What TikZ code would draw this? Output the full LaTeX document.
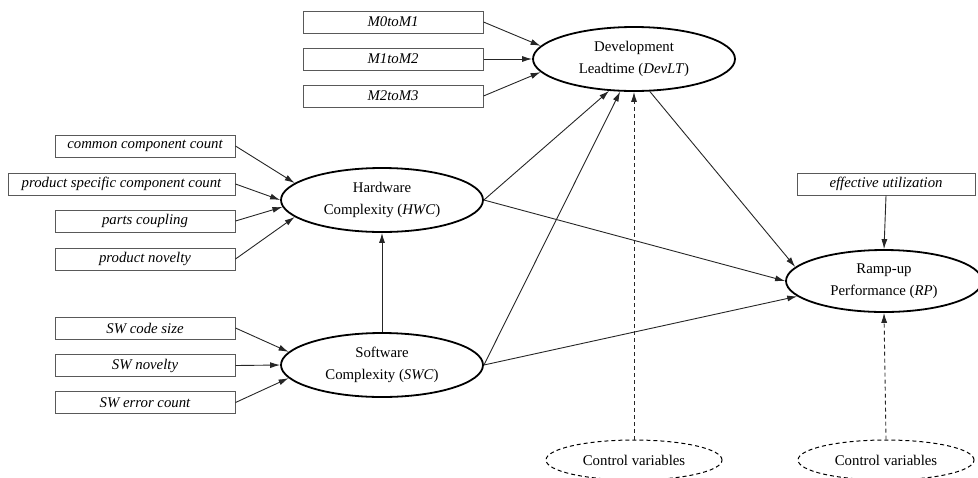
\documentclass[tikz,border=0pt]{standalone}
\usepackage{fontspec}
\setmainfont{Liberation Serif}
\usetikzlibrary{arrows.meta,shapes.geometric}

\begin{document}
\begin{tikzpicture}[x=0.5pt,y=-0.5pt,
  font=\fontsize{7.4}{11}\selectfont,
  ind/.style={draw=black!65,line width=0.5pt,minimum width=90pt,minimum height=11pt,inner sep=0pt,font=\fontsize{7.4}{11}\selectfont\itshape},
  lat/.style={ellipse,draw,line width=0.9pt,minimum width=101pt,minimum height=32pt,inner sep=0pt,align=center},
  ctrl/.style={ellipse,draw,dash pattern=on 2pt off 1.5pt,line width=0.5pt,minimum width=88pt,minimum height=20pt,inner sep=0pt},
  arr/.style={-{Latex[length=5pt,width=3pt]},line width=0.45pt,draw=black!85},
  darr/.style={arr,dash pattern=on 2pt off 1.5pt}]
\useasboundingbox (0,0) rectangle (978,477);
% indicators
\node[ind] (m0) at (393,22) {M0toM1};
\node[ind] (m1) at (393,59) {M1toM2};
\node[ind] (m2) at (393,96) {M2toM3};
\node[ind] (cc) at (145,146) {common component count};
\node[ind,minimum width=113.5pt] (ps) at (121.5,184) {product specific component count};
\node[ind] (pc) at (145,221) {parts coupling};
\node[ind] (pn) at (145,259) {product novelty};
\node[ind] (sc) at (145,328) {SW code size};
\node[ind] (sn) at (145,365.5) {SW novelty};
\node[ind] (se) at (145,402.5) {SW error count};
\node[ind,minimum width=89pt] (eu) at (886,184) {effective utilization};
% constructs
\node[lat] (devlt) at (634,59) {Development\\Leadtime (\textit{DevLT})};
\node[lat] (hwc) at (382,200) {Hardware\\Complexity (\textit{HWC})};
\node[lat] (swc) at (382,365) {Software\\Complexity (\textit{SWC})};
\node[lat,minimum width=98pt,minimum height=31pt] (rp) at (884,281) {Ramp-up\\Performance (\textit{RP})};
\node[ctrl] (cv1) at (634,460) {Control variables};
\node[ctrl] (cv2) at (886,460) {Control variables};
% paths
\draw[arr] (m0.east) -- (devlt.172);
\draw[arr] (m1.east) -- (devlt.west);
\draw[arr] (m2.east) -- (devlt.188);
\draw[arr] (cc.east) -- (hwc.169);
\draw[arr] (ps.east) -- (hwc.west);
\draw[arr] (pc.east) -- (hwc.184);
\draw[arr] (pn.east) -- (hwc.191);
\draw[arr] (sc.east) -- (swc.172);
\draw[arr] (sn.east) -- (swc.west);
\draw[arr] (se.east) -- (swc.188);
\draw[arr] (swc.north) -- (hwc.south);
\draw[arr] (hwc.east) -- (devlt.232);
\draw[arr] (swc.east) -- (devlt.247);
\draw[arr] (hwc.east) -- (rp.west);
\draw[arr] (swc.east) -- (rp.190);
\draw[arr] (devlt.-64) -- (rp.171);
\draw[arr] (eu.south) -- (rp.north);
\draw[darr] (cv1.north) -- (devlt.south);
\draw[darr] (cv2.north) -- (rp.south);
\end{tikzpicture}
\end{document}
